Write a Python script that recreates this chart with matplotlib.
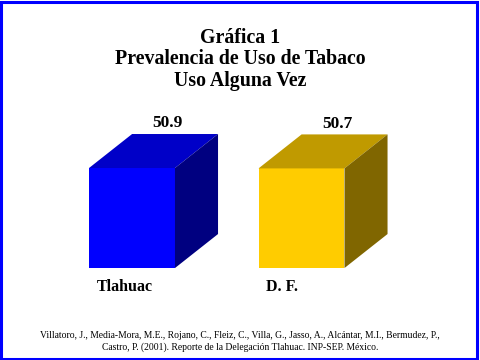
import matplotlib
matplotlib.use("Agg")
import matplotlib.pyplot as plt
from matplotlib.patches import Polygon, Rectangle

# datos
categorias = ["Tlahuac", "D. F."]
valores = [50.9, 50.7]
etiquetas = ["50.9", "50.7"]
titulo = "Gráfica 1\nPrevalencia de Uso de Tabaco\nUso Alguna Vez"
fuente = ("Villatoro, J., Media-Mora, M.E., Rojano, C., Fleiz, C., Villa, G., Jasso, A., Alcántar, M.I., Bermudez, P.,\n"
          "Castro, P. (2001). Reporte de la Delegación Tlahuac. INP-SEP. México.")

# colores: frente, arriba, lado
colores = [("#0000FF", "#0000C8", "#000080"),
           ("#FFCC00", "#C09A00", "#806600")]

serif = "Liberation Serif"

fig = plt.figure(figsize=(4.8, 3.6), dpi=100)
ax = fig.add_axes([0, 0, 1, 1])
ax.set_xlim(-0.7788, 2.053)
ax.set_ylim(-46.8, 136.4)
ax.axis("off")

ancho = 0.507   # ancho de la cara frontal
dx = 0.254      # profundidad en x
dy = 17.3       # profundidad en y

for i, v in enumerate(valores):
    x0, x1 = i - ancho / 2, i + ancho / 2
    frente, arriba, lado = colores[i]
    ax.add_patch(Polygon([(x0, 0), (x1, 0), (x1, v), (x0, v)], closed=True,
                         facecolor=frente, edgecolor="none"))
    ax.add_patch(Polygon([(x0, v), (x1, v), (x1 + dx, v + dy), (x0 + dx, v + dy)],
                         closed=True, facecolor=arriba, edgecolor="none"))
    ax.add_patch(Polygon([(x1, 0), (x1 + dx, dy), (x1 + dx, v + dy), (x1, v)],
                         closed=True, facecolor=lado, edgecolor="none"))
    ax.text(i + 0.21, v + dy + 5.5, etiquetas[i], ha="center", va="center",
            fontsize=12.5, fontweight="bold", family=serif)
    ax.text(x0 + 0.045, -9.5, categorias[i], ha="left", va="center",
            fontsize=11.5, fontweight="bold", family=serif)

fig.text(0.5, 0.836, titulo, ha="center", va="center", fontsize=14.3,
         fontweight="bold", family=serif, linespacing=1.1)
fig.text(0.5, 0.051, fuente, ha="center", va="center", fontsize=6.95,
         family=serif, linespacing=1.4)

# marco azul
fig.patches.append(Rectangle((0.003, 0.004), 0.991, 0.99, transform=fig.transFigure,
                             fill=False, edgecolor="#0000FF", linewidth=2.2))

fig.savefig("out.png", dpi=100)
